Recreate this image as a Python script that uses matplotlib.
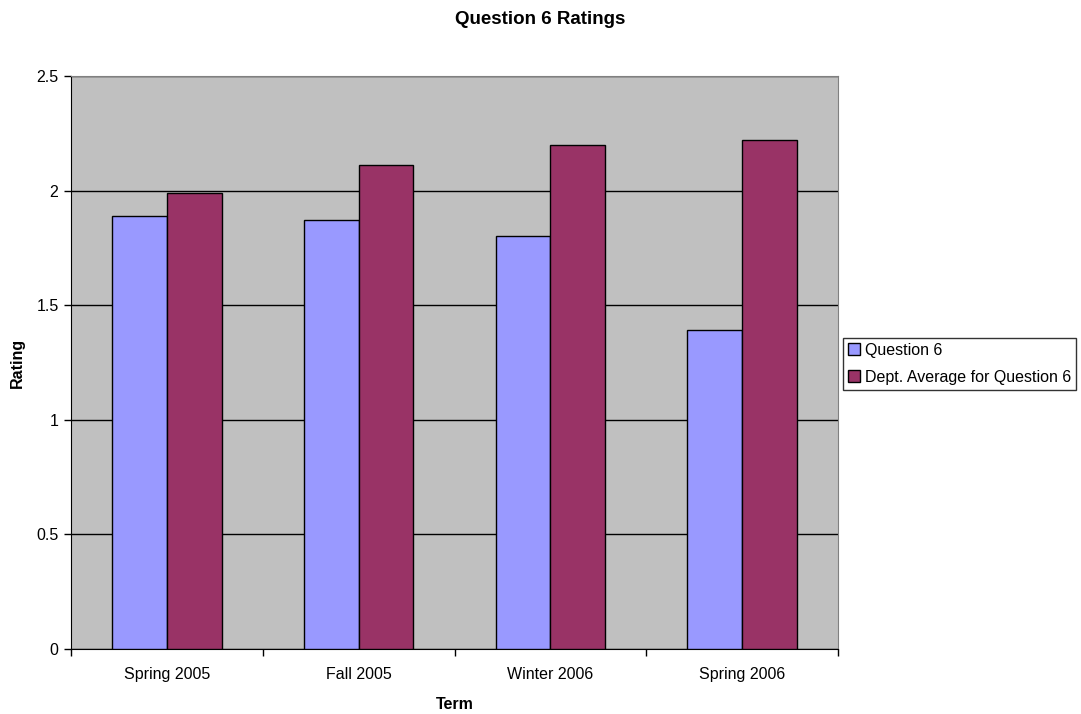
import numpy as np
import matplotlib.pyplot as plt

plt.rcParams['font.family'] = ['Liberation Sans', 'DejaVu Sans']

terms = ['Spring 2005', 'Fall 2005', 'Winter 2006', 'Spring 2006']
question6 = [1.89, 1.87, 1.8, 1.39]
dept_avg = [1.99, 2.11, 2.2, 2.22]

fig = plt.figure(figsize=(10.81, 7.14), dpi=100)
# plot area in pixel terms: x 71..838, y 76..649
ax = fig.add_axes([71 / 1081, 1 - 649 / 714, (838 - 71) / 1081, (649 - 76) / 714])
ax.set_facecolor('#C0C0C0')

x = np.arange(len(terms))
w = 1 / 3.5
ax.bar(x - w / 2, question6, width=w, color='#9999FF', edgecolor='black',
       linewidth=1, label='Question 6', zorder=3)
ax.bar(x + w / 2, dept_avg, width=w, color='#993366', edgecolor='black',
       linewidth=1, label='Dept. Average for Question 6', zorder=3)

ax.set_xlim(-0.5, len(terms) - 0.5)
ax.set_ylim(0, 2.5)
ax.set_yticks(np.arange(0, 2.51, 0.5))
ax.set_yticklabels(['0', '0.5', '1', '1.5', '2', '2.5'])
ax.yaxis.grid(True, color='black', linewidth=1, zorder=1)

ax.set_xticks(x)
ax.set_xticklabels(terms)
ax.set_xticks(np.arange(-0.5, len(terms)), minor=True)
ax.tick_params(axis='x', which='major', length=0, pad=13, labelsize=11.5)
ax.tick_params(axis='x', which='minor', length=5, width=1, color='black')
ax.tick_params(axis='y', length=5, width=1, labelsize=11.5, pad=4)

for side in ['top', 'right']:
    ax.spines[side].set_color('#808080')
for side in ['left', 'bottom']:
    ax.spines[side].set_color('black')

ax.set_xlabel('Term', fontweight='bold', fontsize=11.5, labelpad=11)
ax.set_ylabel('Rating', fontweight='bold', fontsize=11.5, labelpad=8)
fig.suptitle('Question 6 Ratings', fontweight='bold', fontsize=13.5, y=0.985)

leg = fig.legend(loc='upper left', bbox_to_anchor=(843 / 1081, 1 - 338 / 714),
                 fontsize=11.5, frameon=True, fancybox=False, edgecolor='black',
                 handlelength=0.75, handleheight=0.75, handletextpad=0.3,
                 borderpad=0.3, labelspacing=0.75, borderaxespad=0)
leg.get_frame().set_linewidth(1)

fig.savefig('out.png', dpi=100)
